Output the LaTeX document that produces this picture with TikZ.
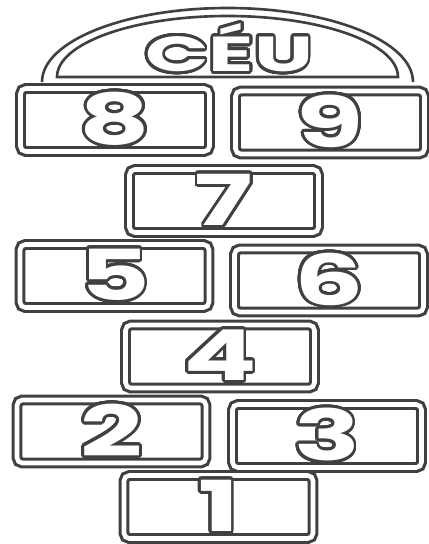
\documentclass[tikz,border=0pt]{standalone}
\usepackage{fontspec}
\newfontfamily\hopfont[FakeStretch=1.55]{Poppins}
\newfontfamily\ceufont[FakeStretch=1.7]{Poppins}
\usepackage{contour}
\contourlength{1.6pt}
\contournumber{32}
\usepackage{tikz}
\usetikzlibrary{positioning}
\colorlet{chalk}{black!75}
\newcommand{\hopnum}[1]{\textcolor{white}{\contour{chalk}{#1}}}

\begin{document}
\begin{tikzpicture}[
    x=0.02cm, y=-0.02cm,
    square/.style={draw=chalk, line width=1.8pt, double=white,
                   double distance=2.6pt, rounded corners=3pt,
                   minimum width=3.78cm, minimum height=1.26cm, inner sep=0pt,
                   font=\hopfont\bfseries\fontsize{40}{40}\selectfont},
    skyline/.style={draw=chalk, line width=1.5pt},
    skytext/.style={font=\ceufont\bfseries\fontsize{28}{28}\selectfont}
]
\useasboundingbox (0,0) rectangle (429,544);

% ============================
% Sky
% ============================
\draw[skyline] (42,82) arc[start angle=180, end angle=360, x radius=185.5, y radius=74];
\draw[skyline] (57,77) arc[start angle=180, end angle=360, x radius=170.5, y radius=61] -- cycle;
\node[skytext] (ceu) at (229,49) {\hopnum{CÉU}};

% ============================
% Squares
% ============================
% Row 8 / 9
\node[square] (b8) at (115,120)   {\hopnum{8}};
\node[square] (b9) at (330,122.5) {\hopnum{9}};
% Row 7
\node[square] (b7) at (224,201)   {\hopnum{7}};
% Row 5 / 6
\node[square] (b5) at (114.5,276) {\hopnum{5}};
\node[square] (b6) at (329,280.5) {\hopnum{6}};
% Row 4
\node[square] (b4) at (220,356.5) {\hopnum{4}};
% Row 2 / 3
\node[square] (b2) at (111.5,431.5) {\hopnum{2}};
\node[square] (b3) at (327,436)   {\hopnum{3}};
% Row 1
\node[square] (b1) at (218.5,507) {\hopnum{1}};

\end{tikzpicture}
\end{document}
